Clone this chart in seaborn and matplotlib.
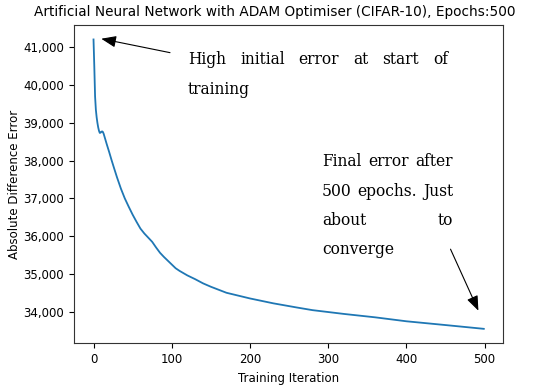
import matplotlib
matplotlib.use("Agg")
import matplotlib.pyplot as plt
import matplotlib.ticker as mticker
import pandas as pd
import seaborn as sns

# Values (iteration, error)
iterations = [0, 1, 2, 3, 4, 5, 6, 7, 8, 9, 10, 11, 12, 13, 15, 17, 20, 23, 26, 30,
              35, 40, 45, 50, 55, 60, 65, 70, 75, 80, 85, 90, 95, 100, 105, 110, 120,
              130, 140, 150, 170, 200, 230, 260, 280, 320, 360, 400, 450, 499]
errors = [41210, 40500, 39700, 39350, 39150, 39000, 38880, 38790, 38735, 38740,
          38765, 38775, 38760, 38710, 38570, 38430, 38230, 38020, 37820, 37560,
          37260, 37000, 36780, 36570, 36380, 36200, 36070, 35960, 35850, 35700,
          35560, 35450, 35350, 35250, 35150, 35080, 34960, 34860, 34750, 34660,
          34500, 34350, 34220, 34110, 34040, 33940, 33850, 33745, 33645, 33545]

title = "Artificial Neural Network with ADAM Optimiser (CIFAR-10), Epochs:500"
note_start = ["High initial error at start of", "training"]
note_end = ["Final error after", "500 epochs. Just", "about to", "converge"]

df = pd.DataFrame({"iteration": iterations, "error": errors})

W, H = 550, 389
fig = plt.figure(figsize=(W / 100, H / 100), dpi=100)
fig.subplots_adjust(left=74 / W, right=503.3 / W, bottom=1 - 343.3 / H, top=1 - 25 / H)
ax = fig.add_subplot(111)

sns.lineplot(data=df, x="iteration", y="error", ax=ax, color="#1f77b4", linewidth=1.3)

fig.text(0.5, 1 - 12 / H, title, fontsize=9.85, ha="center", va="center")
ax.set_xlabel("Training Iteration", fontsize=8.5)
ax.set_ylabel("Absolute Difference Error", fontsize=8.5, labelpad=1.5)
ax.tick_params(labelsize=8.5)
ax.set_xticks([0, 100, 200, 300, 400, 500])
ax.yaxis.set_major_formatter(mticker.StrMethodFormatter("{x:,.0f}"))
for s in ax.spines.values():
    s.set_color("#333333")

arrow = dict(arrowstyle="-|>,head_length=0.9,head_width=0.35", color="black", lw=0.8)
ax.annotate("", xy=(6.4, 41244), xytext=(101.3, 40846), arrowprops=arrow)
ax.annotate("", xy=(493.6, 33958), xytext=(455, 35722), arrowprops=arrow)


def justified(lines, x0, x1, y_top, step, size=12.3):
    r = fig.canvas.get_renderer()
    for i, line in enumerate(lines):
        words = line.split()
        y = 1 - (y_top + i * step) / H
        texts = [fig.text(0, y, w, fontsize=size, family="DejaVu Serif", va="center")
                 for w in words]
        widths = [t.get_window_extent(r).width for t in texts]
        last = i == len(lines) - 1
        gap = 4 if (last or len(words) == 1) else (x1 - x0 - sum(widths)) / (len(words) - 1)
        x = x0
        for t, w in zip(texts, widths):
            t.set_x(x / W)
            x += w + gap


justified(note_start, 188, 448, 60, 30, size=11.2)
justified(note_end, 322, 453, 162, 29, size=11.2)

fig.savefig("out.png", dpi=100)
